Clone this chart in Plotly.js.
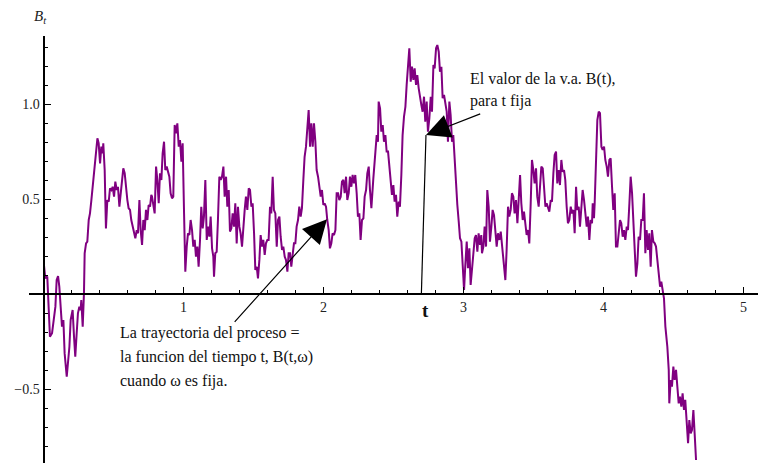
<!DOCTYPE html>
<html>
<head>
<meta charset="utf-8">
<script src="https://cdn.plot.ly/plotly-3.0.1.min.js"></script>
<style>html,body{margin:0;padding:0;background:#fff;}#chart{width:769px;height:463px;}</style>
</head>
<body>
<div id="chart"></div>
<script>
// Brownian path B_t, in six consecutive pieces
const tA = [0.004,0.013,0.027,0.037,0.046,0.061,0.075,0.085,0.094,0.104,0.113,0.123,0.132,0.142,0.151,0.166,0.175,0.185,0.194,0.208,0.218,0.227,0.237,0.246,0.256,0.265,0.270,0.280,0.289,0.294,0.304,0.313,0.323,0.332,0.342,0.351,0.356,0.366,0.375,0.385,0.394,0.404,0.413,0.423,0.427,0.437,0.446,0.456,0.466,0.475,0.485,0.494,0.504,0.513,0.523,0.532,0.542,0.551,0.561,0.570,0.580,0.589,0.599,0.608,0.618,0.627,0.637,0.646,0.656,0.666,0.675,0.685,0.694,0.704,0.713,0.723,0.732,0.742,0.751,0.761,0.770];
const bA = [0.15,0.085,0.094,-0.117,-0.222,-0.204,-0.117,-0.064,0.076,0.097,0.041,-0.064,-0.169,-0.134,-0.31,-0.433,-0.362,-0.275,-0.134,-0.082,-0.222,-0.327,-0.204,-0.099,-0.064,-0.082,-0.029,-0.169,0.006,0.217,0.269,0.278,0.392,0.427,0.497,0.567,0.594,0.708,0.761,0.822,0.796,0.69,0.778,0.743,0.796,0.655,0.348,0.497,0.489,0.559,0.55,0.567,0.515,0.594,0.55,0.567,0.462,0.533,0.603,0.664,0.638,0.55,0.497,0.454,0.445,0.392,0.357,0.339,0.296,0.339,0.322,0.497,0.339,0.261,0.392,0.339,0.445,0.392,0.471,0.462,0.524];

const tB = [0.775,0.785,0.794,0.804,0.813,0.823,0.832,0.842,0.851,0.861,0.870,0.880,0.889,0.899,0.908,0.918,0.927,0.937,0.946,0.956,0.966,0.975,0.985,0.994,1.004,1.013,1.023,1.032,1.042,1.051,1.061,1.070,1.080,1.089,1.099,1.108,1.118,1.127,1.137,1.146,1.156,1.166,1.175,1.185,1.194,1.204,1.213,1.218,1.227,1.237,1.246,1.256,1.266,1.275,1.285,1.294,1.304,1.313,1.323,1.332,1.342,1.351,1.361,1.370,1.380,1.389,1.399,1.408,1.418,1.427,1.437,1.446,1.456,1.466,1.475,1.485,1.494,1.504,1.513,1.523,1.532,1.542,1.551,1.561];
const bB = [0.515,0.462,0.427,0.673,0.603,0.48,0.638,0.603,0.743,0.804,0.655,0.673,0.646,0.62,0.533,0.506,0.515,0.892,0.848,0.901,0.778,0.813,0.699,0.796,0.427,0.12,0.252,0.322,0.313,0.392,0.339,0.252,0.287,0.199,0.252,0.146,0.287,0.462,0.348,0.41,0.603,0.287,0.357,0.304,0.41,0.243,0.199,0.094,0.217,0.225,0.392,0.62,0.603,0.62,0.673,0.515,0.62,0.462,0.55,0.331,0.348,0.427,0.357,0.48,0.269,0.462,0.357,0.322,0.252,0.357,0.445,0.515,0.445,0.559,0.55,0.462,0.48,0.322,0.129,0.146,0.085,0.182,0.313,0.252];

const tC = [1.570,1.580,1.589,1.599,1.608,1.618,1.627,1.637,1.646,1.656,1.666,1.675,1.685,1.694,1.704,1.713,1.723,1.732,1.742,1.751,1.761,1.770,1.780,1.789,1.799,1.808,1.818,1.827,1.837,1.846,1.856,1.865,1.875,1.884,1.894,1.904,1.913,1.923,1.932,1.942,1.951,1.961,1.970,1.980,1.989,1.999,2.008,2.018,2.027,2.037,2.046,2.056,2.065,2.075,2.085,2.094,2.104,2.113,2.123,2.132,2.142,2.151,2.161,2.170,2.180,2.189,2.199,2.208,2.218,2.227,2.237,2.246,2.256,2.265,2.275,2.285,2.294,2.304,2.313,2.323,2.332,2.342];
const bC = [0.287,0.208,0.269,0.287,0.287,0.462,0.427,0.62,0.445,0.427,0.252,0.392,0.41,0.304,0.234,0.252,0.199,0.182,0.12,0.217,0.217,0.146,0.217,0.269,0.269,0.357,0.392,0.462,0.41,0.454,0.603,0.725,0.778,0.883,0.971,0.778,0.901,0.778,0.901,0.804,0.655,0.62,0.567,0.515,0.55,0.471,0.48,0.462,0.392,0.339,0.243,0.269,0.322,0.313,0.339,0.533,0.533,0.497,0.515,0.594,0.603,0.533,0.62,0.497,0.533,0.62,0.567,0.629,0.585,0.629,0.533,0.41,0.427,0.287,0.392,0.401,0.515,0.55,0.638,0.673,0.55,0.454];

const tD = [2.356,2.366,2.375,2.380,2.389,2.394,2.404,2.413,2.423,2.432,2.442,2.451,2.461,2.470,2.480,2.489,2.499,2.508,2.518,2.527,2.537,2.546,2.556,2.565,2.575,2.585,2.594,2.604,2.613,2.623,2.632,2.642,2.651,2.661,2.670,2.680,2.689,2.699,2.708,2.718,2.727,2.737,2.746,2.756,2.766,2.775,2.785,2.794,2.804,2.813,2.823,2.832,2.842,2.851,2.861,2.870,2.880,2.889,2.899,2.908,2.918,2.927,2.937,2.946,2.956,2.966,2.975,2.985,2.994,3.004,3.013,3.023,3.032,3.042,3.051,3.061,3.070,3.080,3.089,3.099,3.108,3.118,3.127];
const bD = [0.611,0.699,0.804,0.839,0.804,1.015,0.98,0.857,0.892,0.804,0.839,0.752,0.752,0.682,0.611,0.524,0.576,0.489,0.524,0.41,0.489,0.462,0.629,0.839,0.936,0.988,1.103,1.225,1.296,1.12,1.199,1.129,1.19,1.103,1.155,1.085,1.033,0.997,0.962,1.041,0.909,1.015,0.857,0.927,1.041,0.962,1.208,1.19,1.296,1.313,1.278,1.173,1.199,1.033,1.05,0.997,0.962,0.804,1.015,0.945,0.804,0.839,0.699,0.611,0.471,0.383,0.296,0.278,0.138,0.024,0.155,0.278,0.138,0.243,0.05,0.138,0.225,0.296,0.313,0.225,0.322,0.261,0.313];

const tE = [3.132,3.142,3.151,3.161,3.170,3.180,3.189,3.199,3.208,3.218,3.227,3.237,3.246,3.256,3.266,3.275,3.280,3.289,3.299,3.308,3.318,3.327,3.337,3.346,3.356,3.365,3.375,3.385,3.394,3.404,3.413,3.423,3.432,3.442,3.451,3.461,3.470,3.480,3.489,3.499,3.508,3.518,3.527,3.537,3.546,3.556,3.566,3.575,3.585,3.594,3.604,3.613,3.623,3.632,3.642,3.651,3.661,3.670,3.680,3.689,3.699,3.708,3.718,3.727,3.737,3.746,3.756,3.766,3.775,3.785,3.794,3.804,3.813,3.823,3.832,3.842,3.851,3.861,3.870,3.880,3.889,3.899,3.908];
const bE = [0.217,0.252,0.357,0.252,0.55,0.462,0.278,0.357,0.445,0.418,0.339,0.252,0.322,0.287,0.331,0.252,0.217,0.129,0.076,0.234,0.462,0.41,0.445,0.533,0.515,0.427,0.497,0.375,0.497,0.629,0.48,0.392,0.436,0.357,0.313,0.339,0.269,0.48,0.708,0.655,0.585,0.664,0.515,0.462,0.585,0.673,0.664,0.533,0.462,0.48,0.462,0.436,0.497,0.489,0.638,0.734,0.752,0.585,0.655,0.576,0.708,0.646,0.655,0.603,0.462,0.375,0.392,0.462,0.427,0.445,0.322,0.567,0.445,0.462,0.357,0.497,0.55,0.497,0.445,0.357,0.41,0.287,0.392];

const tF = [3.918,3.923,3.932,3.937,3.942,3.951,3.956,3.966,3.975,3.985,3.994,4.004,4.013,4.023,4.032,4.042,4.051,4.061,4.070,4.080,4.089,4.099,4.108,4.118,4.127,4.137,4.146,4.156,4.166,4.175,4.185,4.194,4.204,4.213,4.223,4.232,4.242,4.251,4.261,4.270,4.280,4.289,4.299,4.308,4.318,4.327,4.337,4.346,4.356,4.366,4.375,4.385,4.394,4.404,4.413,4.423,4.432,4.442,4.456,4.466,4.470,4.480,4.489,4.499,4.508,4.518,4.527,4.537,4.546,4.556,4.565,4.575,4.584,4.594,4.604,4.613,4.623,4.632,4.642,4.651,4.661];
const bF = [0.375,0.48,0.401,0.48,0.603,0.761,0.918,0.962,0.954,0.778,0.761,0.778,0.708,0.673,0.62,0.708,0.717,0.567,0.445,0.533,0.252,0.252,0.304,0.392,0.375,0.304,0.339,0.287,0.357,0.339,0.48,0.62,0.533,0.392,0.287,0.094,0.164,0.304,0.287,0.392,0.392,0.533,0.217,0.339,0.234,0.322,0.146,0.339,0.278,0.269,0.252,0.164,0.129,0.041,0.067,0.006,-0.02,-0.169,-0.275,-0.397,-0.573,-0.45,-0.485,-0.38,-0.45,-0.397,-0.467,-0.573,-0.538,-0.59,-0.52,-0.608,-0.555,-0.696,-0.783,-0.661,-0.731,-0.713,-0.608,-0.731,-0.871];

// Axis ticks
const xTickVals = [1, 2, 3, 4, 5];
const xTickText = ['1', '2', '3', '4', '5'];
const yTickVals = [-0.5, 0.5, 1.0];
const yTickText = ['\u22120.5', '0.5', '1.0'];
const xRange = [-0.1036, 5.1036];
const yRange = [-0.887, 1.3605];

// Annotation texts and anchor points (data units)
const leftText = ['La trayectoria del proceso =', 'la funcion del tiempo t, B(t,\u03c9)', 'cuando \u03c9 es fija.'];
const leftTextT = 0.532;
const leftTextB = [-0.203, -0.329, -0.455];
const rightText = ['El valor de la v.a. B(t),', 'para t fija'];
const rightTextT = 3.030;
const rightTextB = [1.134, 1.021];
const arrow1Tail = [1.356, -0.152];
const arrow1Tip = [2.025, 0.396];
const arrow2Tail = [3.13, 0.954];
const arrow2Tip = [2.732, 0.839];
const fixedTBase = [2.699, 0];
const fixedTLabel = [2.725, -0.082];

const time = [].concat(tA, tB, tC, tD, tE, tF);
const B = [].concat(bA, bB, bC, bD, bE, bF);

const serif = '"Times New Roman", "Liberation Serif", "DejaVu Serif", serif';
const x0frac = (0 - xRange[0]) / (xRange[1] - xRange[0]);
const y0frac = (0 - yRange[0]) / (yRange[1] - yRange[0]);

const annotations = [];
leftText.forEach((s, i) => annotations.push({
  xref: 'x', yref: 'y', x: leftTextT, y: leftTextB[i], text: s, showarrow: false,
  xanchor: 'left', yanchor: 'middle', font: {family: serif, size: 16, color: '#111'}
}));
rightText.forEach((s, i) => annotations.push({
  xref: 'x', yref: 'y', x: rightTextT, y: rightTextB[i], text: s, showarrow: false,
  xanchor: 'left', yanchor: 'middle', font: {family: serif, size: 16, color: '#111'}
}));
[[arrow1Tail, arrow1Tip], [arrow2Tail, arrow2Tip]].forEach(([tail, tip]) => annotations.push({
  xref: 'x', yref: 'y', axref: 'x', ayref: 'y', x: tip[0], y: tip[1], ax: tail[0], ay: tail[1],
  text: '', showarrow: true, arrowhead: 2, arrowsize: 4, arrowwidth: 1.2, arrowcolor: 'black', standoff: 0
}));
annotations.push({
  xref: 'x', yref: 'y', x: fixedTLabel[0], y: fixedTLabel[1], text: '<b>t</b>', showarrow: false,
  xanchor: 'center', yanchor: 'middle', font: {family: serif, size: 19, color: '#111'}
});
annotations.push({
  xref: 'x', yref: 'paper', x: -0.02, y: 1, yanchor: 'bottom', xanchor: 'center', yshift: 8,
  text: '<i>B<sub>t</sub></i>', showarrow: false, font: {family: serif, size: 15, color: '#222'}
});

const axisCommon = {
  showline: true, linecolor: 'black', linewidth: 2, showgrid: false, zeroline: false,
  ticks: 'inside', ticklen: 6, tickwidth: 1.5, tickcolor: 'black', tickmode: 'array',
  tickfont: {family: serif, size: 14, color: '#222'}, automargin: false, fixedrange: true
};

const layout = {
  width: 769, height: 463,
  margin: {l: 29, r: 11, t: 36, b: 0, pad: 0},
  paper_bgcolor: 'white', plot_bgcolor: 'white',
  font: {family: serif},
  showlegend: false,
  xaxis: Object.assign({}, axisCommon, {
    range: xRange, anchor: 'free', position: y0frac,
    tickvals: xTickVals, ticktext: xTickText,
    minor: {tickmode: 'linear', tick0: 0, dtick: 0.2, ticks: 'inside', ticklen: 3.5, tickwidth: 1.2, tickcolor: 'black', showgrid: false}
  }),
  yaxis: Object.assign({}, axisCommon, {
    range: yRange, anchor: 'free', position: x0frac,
    tickvals: yTickVals, ticktext: yTickText,
    minor: {tickmode: 'linear', tick0: 0, dtick: 0.1, ticks: 'inside', ticklen: 3.5, tickwidth: 1.2, tickcolor: 'black', showgrid: false}
  }),
  shapes: [{
    type: 'line', xref: 'x', yref: 'y',
    x0: fixedTBase[0], y0: fixedTBase[1], x1: arrow2Tip[0], y1: arrow2Tip[1],
    line: {color: 'black', width: 1.2}
  }],
  annotations: annotations
};

const trace = {
  type: 'scatter', mode: 'lines', x: time, y: B,
  line: {color: '#800080', width: 2}, hoverinfo: 'skip'
};

Plotly.newPlot('chart', [trace], layout, {displayModeBar: false, staticPlot: true});
</script>
</body>
</html>
